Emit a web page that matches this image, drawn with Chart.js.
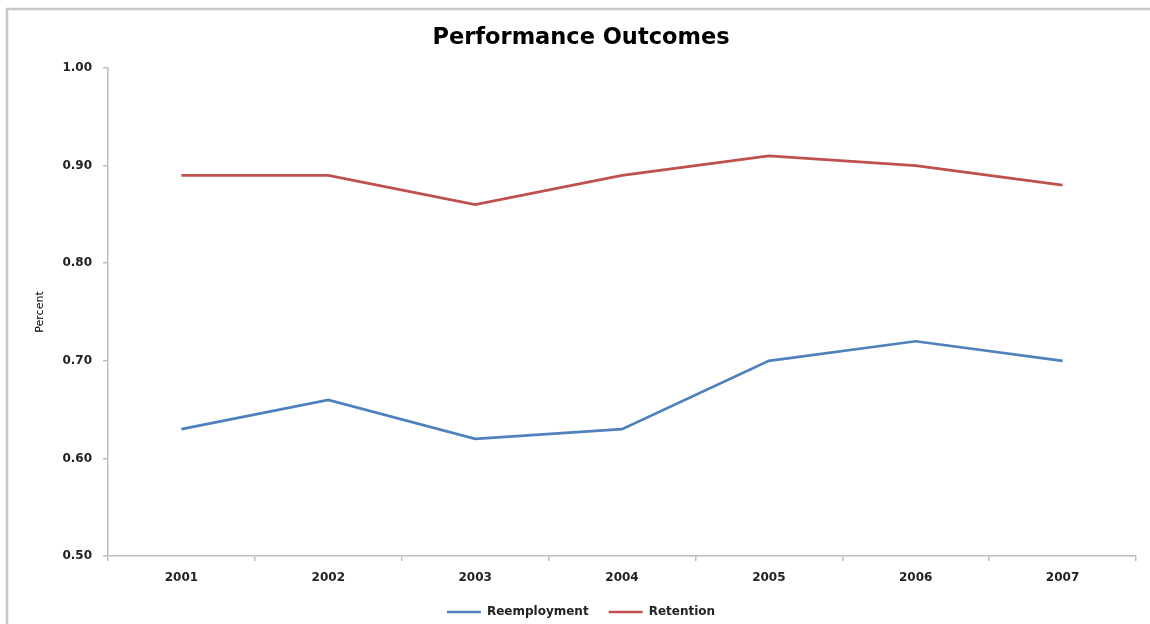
<!DOCTYPE html>
<html>
<head>
<meta charset="utf-8">
<script src="https://cdn.jsdelivr.net/npm/chart.js@4/dist/chart.umd.min.js"></script>
<style>
html,body{margin:0;padding:0;background:#fff;}
#wrap{width:1150px;height:624px;position:relative;}
</style>
</head>
<body>
<div id="wrap"><canvas id="c" width="1150" height="624"></canvas></div>
<script>
const years = ['2001','2002','2003','2004','2005','2006','2007'];
const reemployment = [0.63, 0.66, 0.62, 0.63, 0.70, 0.72, 0.70];
const retention = [0.89, 0.89, 0.86, 0.89, 0.91, 0.90, 0.88];
const yTicks = [0.50, 0.60, 0.70, 0.80, 0.90, 1.00];

const FONT = "'DejaVu Sans', sans-serif";
const axisColor = '#bdbdbd';

const borderPlugin = {
  id: 'outerBorder',
  beforeDraw(chart) {
    const ctx = chart.ctx;
    ctx.save();
    ctx.fillStyle = '#ffffff';
    ctx.fillRect(0, 0, chart.width, chart.height);
    ctx.strokeStyle = '#c8c8c8';
    ctx.lineWidth = 2.5;
    ctx.strokeRect(7, 9, 1300, 800);
    ctx.restore();
  }
};

new Chart(document.getElementById('c'), {
  type: 'line',
  data: {
    labels: years,
    datasets: [
      { label: 'Reemployment', data: reemployment, borderColor: '#4F81BD', backgroundColor: '#4F81BD', borderWidth: 2.7, pointRadius: 0, tension: 0 },
      { label: 'Retention', data: retention, borderColor: '#C0504D', backgroundColor: '#C0504D', borderWidth: 2.7, pointRadius: 0, tension: 0 }
    ]
  },
  options: {
    responsive: false,
    animation: false,
    devicePixelRatio: 1,
    layout: { padding: { left: 26, right: 14, top: 10, bottom: -4 } },
    plugins: {
      title: {
        display: true,
        text: 'Performance Outcomes',
        color: '#000',
        font: { family: FONT, size: 22.5, weight: 'bold' },
        padding: { top: 15, bottom: 16 }
      },
      legend: {
        position: 'bottom',
        labels: {
          color: '#222',
          font: { family: FONT, size: 12, weight: 'bold' },
          boxWidth: 34,
          boxHeight: 2.5,
          padding: 20,
          generateLabels(chart) {
            const items = Chart.defaults.plugins.legend.labels.generateLabels(chart);
            items.forEach(it => { it.lineWidth = 0; });
            return items;
          }
        }
      },
      tooltip: { enabled: false }
    },
    scales: {
      x: {
        offset: true,
        grid: { display: true, drawOnChartArea: false, offset: true, tickLength: 5, color: axisColor, lineWidth: 1.5 },
        border: { display: true, color: axisColor, width: 1.5 },
        ticks: { color: '#222', font: { family: FONT, size: 12, weight: 'bold' }, padding: 10, maxRotation: 0 },
        afterFit(scale) { scale.height = 30; }
      },
      y: {
        min: 0.5,
        max: 1.0,
        afterBuildTicks(scale) { scale.ticks = yTicks.map(v => ({ value: v })); },
        grid: { display: true, drawOnChartArea: false, tickLength: 5, color: axisColor, lineWidth: 1.5 },
        border: { display: true, color: axisColor, width: 1.5 },
        ticks: {
          color: '#222',
          font: { family: FONT, size: 12, weight: 'bold' },
          padding: 11,
          callback: v => Number(v).toFixed(2)
        },
        title: {
          display: true,
          text: 'Percent',
          color: '#000',
          font: { family: FONT, size: 11 },
          padding: { top: 8, bottom: 0 }
        },
        afterFit(scale) { scale.width = 82; }
      }
    }
  },
  plugins: [borderPlugin]
});
</script>
</body>
</html>
